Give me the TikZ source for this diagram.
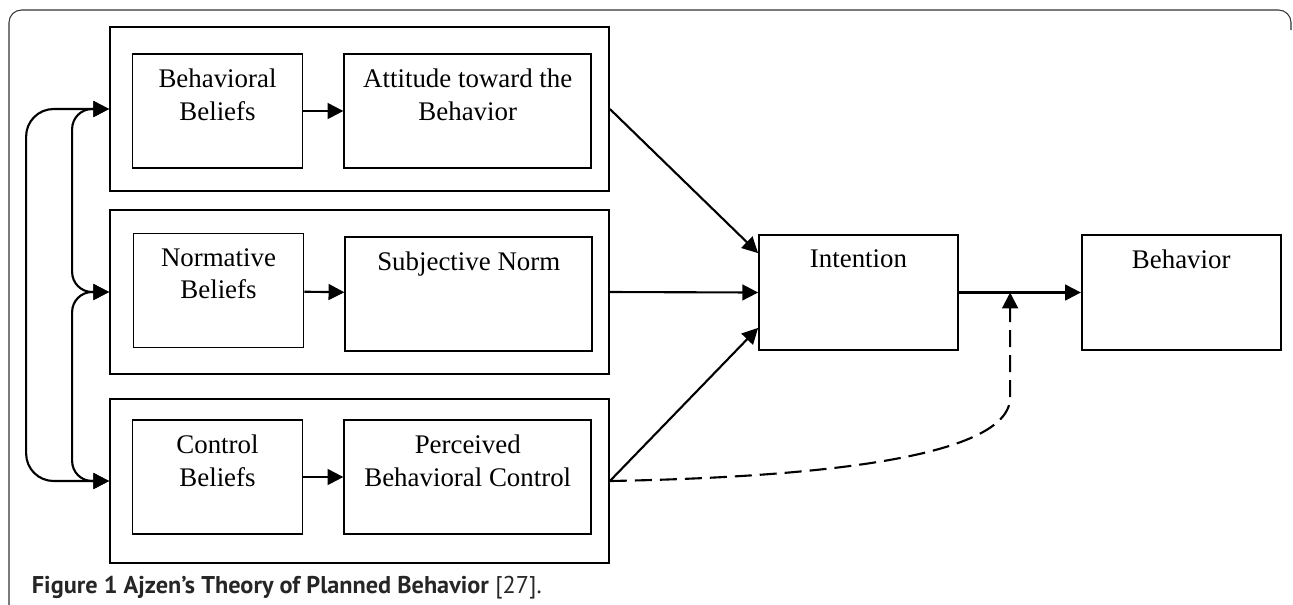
\documentclass[tikz,border=0pt]{standalone}
\usepackage{fontspec}
\setmainfont{Liberation Serif}
\setsansfont{PT Sans}
\usetikzlibrary{arrows.meta,positioning,calc}

\begin{document}
\begin{tikzpicture}[>={Triangle[length=9pt,width=9pt]}, line width=1.2pt,
		grp/.style={draw, line width=1pt, minimum width=9.98cm, minimum height=3.28cm},
		belief/.style={draw, line width=1pt, minimum width=3.4cm, minimum height=2.28cm},
		construct/.style={belief, minimum width=4.94cm},
		txt/.style={anchor=north, yshift=-0.3cm, align=center, inner sep=0pt, font=\fontsize{15.3}{18.3}\selectfont},]
		\useasboundingbox (0,0) rectangle (25.86,-12.08);
		% outer frame
		\draw[line width=0.6pt, black!80, rounded corners=0.25cm] (0.18,-12.2) -- (0.18,-0.2) -- (25.82,-0.2) -- (25.82,-0.6);
		
		\node[grp] (grpA) at (7.19,-2.18) {};
		\node[grp] (grpB) at (7.19,-5.84) {};
		\node[grp] (grpC) at (7.19,-9.62) {};
		
		\node[belief, label={[txt]north:Behavioral\\Beliefs}] (bb) at (4.35,-2.22) {};
		\node[construct, right=0.8cm of bb, label={[txt]north:Attitude toward the\\Behavior}] (att) {};
		
		\node[belief, label={[txt]north:Normative\\Beliefs}] (nb) at (4.37,-5.81) {};
		\node[construct, right=0.8cm of nb, yshift=-0.07cm, label={[txt]north:Subjective Norm}] (sn) {};
		
		\node[belief, label={[txt]north:Control\\Beliefs}] (cb) at (4.35,-9.54) {};
		\node[construct, right=0.8cm of cb, label={[txt]north:Perceived\\Behavioral Control}] (pbc) {};
		
		\node[belief, minimum width=3.98cm, minimum height=2.3cm, label={[txt]north:Intention}] (int) at (17.17,-5.85) {};
		\node[belief, minimum width=3.98cm, minimum height=2.3cm, right=2.44cm of int, label={[txt]north:Behavior}] (beh) {};
		
		\draw[->] (bb) -- (att);
		\draw[->] (nb) -- (sn);
		\draw[->] (cb) -- (pbc);
		
		\draw[->] (grpA.east) -- ([yshift=-0.38cm]int.north west);
		\draw[->] (grpB.east) -- (int.west);
		\draw[->] (grpC.east) -- ([yshift=0.46cm]int.south west);
		\draw[->] (int.east) -- (beh.west);
		
		% moderating path
		\coordinate (mid) at ($(int.east)!0.42!(beh.west)$);
		\draw[->, dash pattern=on 0.34cm off 0.16cm] (grpC.east) .. controls (16,-9.55) and (20.2,-9.2) .. ([yshift=-2.1cm]mid) -- (mid);
		
		% correlations between beliefs
		\draw[<->, rounded corners=0.55cm] (grpA.west) -- ++(-1.66,0) |- (grpC.west);
		\draw[<->, rounded corners=0.4cm] (grpA.west) -- ++(-0.74,0) |- (grpB.west);
		\draw[<->, rounded corners=0.4cm] (grpB.west) -- ++(-0.74,0) |- (grpC.west);
		
		\node[anchor=west, font=\sffamily\fontsize{13.8}{15}\selectfont, text=black!85] (cap) at (0.5,-11.75) {\textbf{Figure 1 Ajzen’s Theory of Planned Behavior} [27].};
\end{tikzpicture}
\end{document}
